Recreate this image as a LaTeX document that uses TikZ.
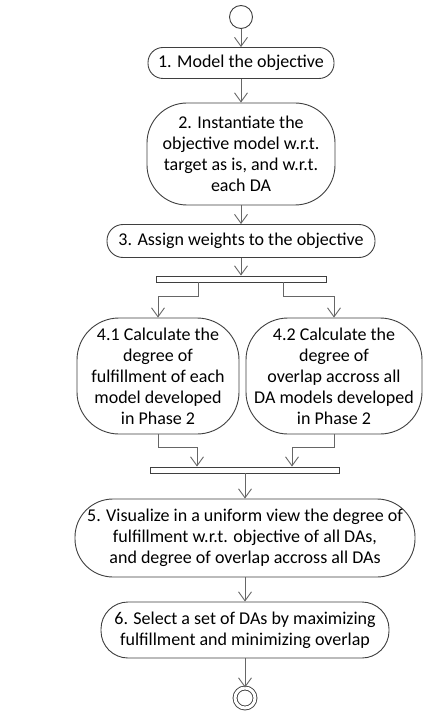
\documentclass[tikz,border=0pt]{standalone}
\usepackage{fontspec}
\setmainfont{Carlito}
\usepackage{xcolor}
\usepackage{tikz}
\usetikzlibrary{shapes, arrows.meta, positioning, calc}
\definecolor{boxline}{HTML}{3F3F3F}
\definecolor{flowline}{HTML}{666666}

\begin{document}
\begin{tikzpicture}[x=1pt, y=-1pt,
    action/.style={draw=boxline, line width=0.9pt, fill=white, align=center, inner sep=0pt,
                   text=black, font=\fontsize{18}{21}\selectfont},
    syncbar/.style={draw=boxline, line width=0.9pt, fill=white, minimum height=6pt, inner sep=0pt},
    startdot/.style={draw=boxline, circle, line width=0.9pt, minimum size=23pt, inner sep=0pt},
    enddot/.style={draw=boxline, circle, double, double distance=3pt, line width=0.9pt,
                   minimum size=20pt, inner sep=0pt},
    arr/.style={-{Straight Barb[length=9pt, width=13pt]}, draw=flowline, line width=0.9pt}
]
\useasboundingbox (0,0) rectangle (424,711);

% Activities
\node[startdot] (start) at (241,17) {};
\node[action, minimum width=186pt, minimum height=31pt, rounded corners=15pt] (model) at (241,63)
    {1. Model the objective};
\node[action, minimum width=188pt, minimum height=102pt, rounded corners=40pt] (inst) at (241,154)
    {2. Instantiate the\\objective model w.r.t.\\target as is, and w.r.t.\\each DA};
\node[action, minimum width=268pt, minimum height=33pt, rounded corners=16pt] (weights) at (241,241)
    {3. Assign weights to the objective};
\node[syncbar, minimum width=170pt] (fork) at (241,279) {};
\node[action, minimum width=162pt, minimum height=116pt, rounded corners=42pt] (fulfil) at (158,376)
    {4.1 Calculate the\\degree of\\fulfillment of each\\model developed\\in Phase 2};
\node[action, minimum width=176pt, minimum height=116pt, rounded corners=42pt] (overlap) at (334,376)
    {4.2 Calculate the\\degree of\\overlap accross all\\DA models developed\\in Phase 2};
\node[syncbar, minimum width=189pt] (join) at (245,470) {};
\node[action, minimum width=340pt, minimum height=78pt, rounded corners=38pt] (visual) at (245,538)
    {5. Visualize in a uniform view the degree of\\fulfillment w.r.t. objective of all DAs,\\and degree of overlap accross all DAs};
\node[action, minimum width=288pt, minimum height=56pt, rounded corners=27pt] (select) at (245,630)
    {6. Select a set of DAs by maximizing\\fulfillment and minimizing overlap};
\node[enddot] (stop) at (245,698) {};

% Flows
\draw[arr] (start) -- (model);
\draw[arr] (model) -- (inst);
\draw[arr] (inst) -- (weights);
\draw[arr] (weights) -- (fork);
\draw[arr] ([xshift=-43pt]fork.south) -- ++(0,14) -| (fulfil.north);
\draw[arr] ([xshift=42pt]fork.south) -- ++(0,14) -| (overlap.north);
\draw[arr] (fulfil.south) -- ++(0,13) -| ([xshift=-48pt]join.north);
\draw[arr] (overlap.south) -- ++(0,13) -| ([xshift=47pt]join.north);
\draw[arr] (join) -- (visual);
\draw[arr] (visual) -- (select);
\draw[arr] (select) -- (stop);
\end{tikzpicture}
\end{document}
